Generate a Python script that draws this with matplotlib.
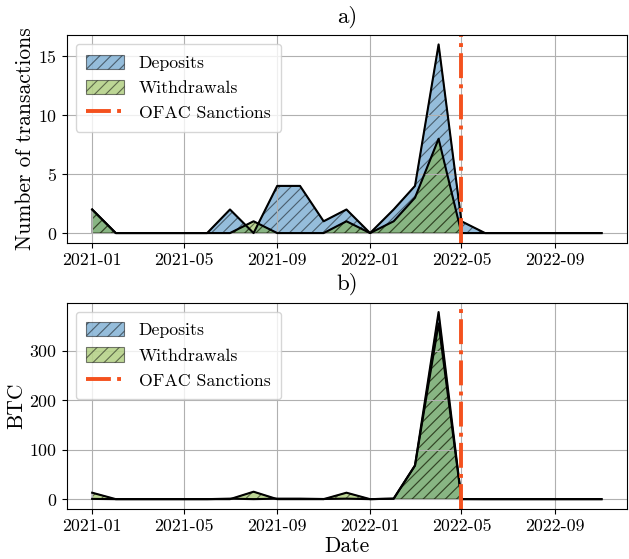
import numpy as np
import pandas as pd
import matplotlib
matplotlib.use("Agg")
import matplotlib.pyplot as plt
import matplotlib.dates as mdates

plt.rcParams['font.family'] = 'serif'
plt.rcParams['font.serif'] = ['cmr10', 'DejaVu Serif']
plt.rcParams['mathtext.fontset'] = 'cm'
plt.rcParams['axes.formatter.use_mathtext'] = True
plt.rcParams['hatch.linewidth'] = 0.8

# Monthly data, 2021-01 .. 2022-11
months = pd.date_range('2021-01-01', '2022-11-01', freq='MS')

dep_count = [2, 0, 0, 0, 0, 0, 2, 0, 4, 4, 1, 2,
             0, 2, 4, 16, 1, 0, 0, 0, 0, 0, 0]
wd_count = [2, 0, 0, 0, 0, 0, 0, 1, 0, 0, 0, 1,
            0, 1, 3, 8, 0, 0, 0, 0, 0, 0, 0]

dep_btc = [0.5, 0, 0, 0, 0, 0, 1, 0, 1, 1, 0.3, 1,
           0, 1, 68, 378, 0.2, 0, 0, 0, 0, 0, 0]
wd_btc = [13, 0, 0, 0, 0, 0, 0, 15, 0, 0, 0, 13,
          0, 1, 68, 355, 0, 0, 0, 0, 0, 0, 0]

ofac_date = pd.Timestamp('2022-05-01')

dep_color = '#2d7db9'
wd_color = '#7daf2d'
ofac_color = '#f4511e'

fig = plt.figure(figsize=(6.29, 5.59), dpi=100)
W, H = 629, 559
left, right = 66.7 / W, 627 / W
ax1 = fig.add_axes([left, 1 - 242.5 / H, right - left, (242.5 - 35) / H])
ax2 = fig.add_axes([left, 1 - 508.5 / H, right - left, (508.5 - 302.7) / H])


def panel(ax, dep, wd, title, ylabel):
    ax.fill_between(months, dep, color=dep_color, alpha=0.5, hatch='///',
                    edgecolor='k', lw=0.8, label='Deposits')
    ax.fill_between(months, wd, color=wd_color, alpha=0.5, hatch='///',
                    edgecolor='k', lw=0.8, label='Withdrawals')
    ax.plot(months, dep, color='k', lw=1.5)
    ax.plot(months, wd, color='k', lw=1.5)
    ax.axvline(ofac_date, color=ofac_color, ls='-.', lw=2.8,
               label='OFAC Sanctions')
    ax.set_title(title, fontsize=16.5, pad=9)
    ax.set_ylabel(ylabel, fontsize=15.5, labelpad=2)
    ax.xaxis.set_major_locator(mdates.MonthLocator(bymonth=[1, 5, 9]))
    ax.xaxis.set_major_formatter(mdates.DateFormatter('%Y-%m'))
    ax.tick_params(labelsize=12.8)
    ax.grid(True)
    ax.legend(loc='upper left', fontsize=12.8, handlelength=2.1,
              handletextpad=0.85, handleheight=0.85, labelspacing=0.5,
              borderpad=0.6)


panel(ax1, dep_count, wd_count, 'a)', 'Number of transactions')
panel(ax2, dep_btc, wd_btc, 'b)', 'BTC')
ax2.set_xlabel('Date', fontsize=15.5, labelpad=2)

fig.savefig('out.png', dpi=100)
